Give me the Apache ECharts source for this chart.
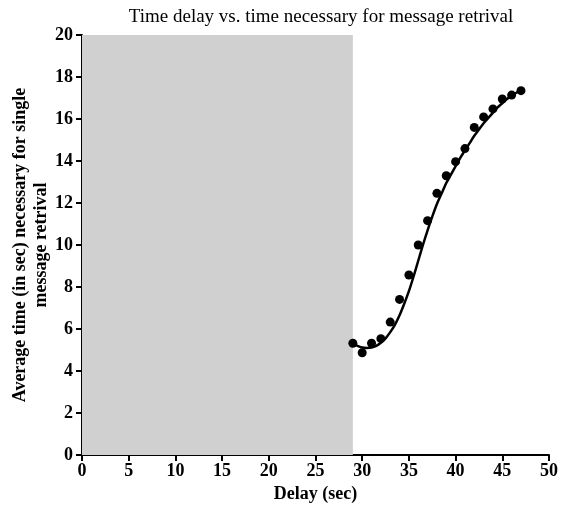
<!DOCTYPE html>
<html>
<head>
<meta charset="utf-8">
<script src="https://cdn.jsdelivr.net/npm/echarts@6/dist/echarts.min.js"></script>
<style>
html, body { margin: 0; padding: 0; background: #fff; }
#chart { width: 566px; height: 512px; }
</style>
</head>
<body>
<div id="chart"></div>
<script>
// measured points (delay, avg time)
var delays = [29, 30, 31, 32, 33, 34, 35, 36, 37, 38, 39, 40, 41, 42, 43, 44, 45, 46, 47];
var times = [5.32, 4.87, 5.32, 5.54, 6.33, 7.41, 8.57, 10.0, 11.16, 12.46, 13.3, 13.97, 14.59, 15.6, 16.1, 16.48, 16.95, 17.14, 17.35];

// fitted curve
var fitX = [29, 29.5, 30, 30.5, 31, 31.5, 32, 32.5, 33, 33.5, 34, 34.5, 35, 35.5, 36, 36.5, 37, 37.5, 38,
	38.5, 39, 39.5, 40, 40.5, 41, 41.5, 42, 42.5, 43, 43.5, 44, 44.5, 45, 45.5, 46, 46.5, 47];
var fitY = [5.3, 5.2, 5.12, 5.1, 5.12, 5.2, 5.35, 5.55, 5.85, 6.2, 6.65, 7.2, 7.8, 8.5, 9.25, 10.0, 10.7, 11.35, 11.95,
	12.45, 12.95, 13.35, 13.75, 14.15, 14.5, 14.85, 15.2, 15.5, 15.8, 16.05, 16.3, 16.55, 16.75, 16.95, 17.1, 17.25, 17.35];

var shadeRange = [0, 29];

var font = 'Liberation Serif, Times New Roman, serif';

function pairs(xs, ys) {
	var out = [];
	for (var i = 0; i < xs.length; i++) {
		out.push([xs[i], ys[i]]);
	}
	return out;
}

var myChart = echarts.init(document.getElementById('chart'));
var option = {
	animation: false,
	title: {
		text: 'Time delay vs. time necessary for message retrival',
		left: 316,
		textAlign: 'center',
		top: 3,
		textStyle: { fontFamily: font, fontSize: 19, fontWeight: 'normal', color: '#000' }
	},
	grid: { left: 82, right: 17, top: 35, bottom: 57, outerBoundsMode: 'none', containLabel: false },
	xAxis: {
		type: 'value',
		min: 0, max: 50, interval: 5,
		name: 'Delay (sec)',
		nameLocation: 'middle',
		nameGap: 30,
		nameTextStyle: { fontFamily: font, fontSize: 18, fontWeight: 'bold', color: '#000' },
		axisLine: { onZero: false, lineStyle: { color: '#000', width: 2 } },
		axisTick: { show: true, inside: false, length: 6, lineStyle: { color: '#000', width: 2 } },
		axisLabel: { fontFamily: font, fontSize: 18, fontWeight: 'bold', color: '#000', margin: 7 },
		splitLine: { show: false }
	},
	yAxis: {
		type: 'value',
		min: 0, max: 20, interval: 2,
		name: 'Average time (in sec) necessary for single\nmessage retrival',
		nameLocation: 'middle',
		nameRotate: 90,
		nameGap: 30,
		nameMoveOverlap: false,
		nameTextStyle: { fontFamily: font, fontSize: 18, fontWeight: 'bold', color: '#000', lineHeight: 21 },
		axisLine: { onZero: false, lineStyle: { color: '#000', width: 2 } },
		axisTick: { show: true, inside: false, length: 6, lineStyle: { color: '#000', width: 2 } },
		axisLabel: { fontFamily: font, fontSize: 18, fontWeight: 'bold', color: '#000', margin: 9 },
		splitLine: { show: false }
	},
	series: [
		{
			type: 'line',
			data: pairs(fitX, fitY),
			showSymbol: false,
			smooth: 0.3,
			lineStyle: { color: '#000', width: 2.5 },
			markArea: {
				silent: true,
				itemStyle: { color: '#d0d0d0' },
				data: [[{ xAxis: shadeRange[0], yAxis: 0 }, { xAxis: shadeRange[1], yAxis: 20 }]]
			},
			z: 3
		},
		{
			type: 'scatter',
			data: pairs(delays, times),
			symbol: 'circle',
			symbolSize: 9,
			itemStyle: { color: '#000', opacity: 1 },
			z: 4
		}
	]
};
myChart.setOption(option);
</script>
</body>
</html>
